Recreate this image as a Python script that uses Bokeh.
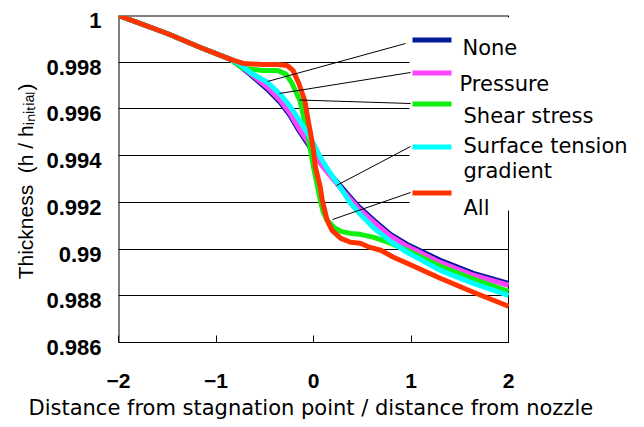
from bokeh.plotting import figure
from bokeh.models import Range1d, FixedTicker, Label, BoxAnnotation, LinearAxis, Title
from bokeh.embed import file_html
from bokeh.resources import INLINE

# ---------------- data ----------------
x_ticks = [-2, -1, 0, 1, 2]
x_tick_labels = ["\u22122", "\u22121", "0", "1", "2"]
y_ticks = [0.986, 0.988, 0.990, 0.992, 0.994, 0.996, 0.998, 1.0]
y_tick_labels = ["0.986", "0.988", "0.99", "0.992", "0.994", "0.996", "0.998", "1"]

names = ["None", "Pressure", "Shear stress", "Surface tension gradient", "All"]

none_x = [-2.0, -1.50, -1.16, -0.85, -0.75, -0.65, -0.47, -0.34, -0.24, -0.15, -0.06, 0.02, 0.10,
          0.28, 0.45, 0.62, 0.79, 0.96, 1.30, 1.64, 2.0]
none_y = [1.0, 0.99923, 0.99863, 0.99812, 0.99782, 0.99748, 0.99683, 0.99628, 0.99572, 0.99508,
          0.99452, 0.99397, 0.99354, 0.99268, 0.99187, 0.99123, 0.99063, 0.99020, 0.98952,
          0.98896, 0.98853]

pressure_x = [-2.0, -1.50, -1.16, -0.85, -0.75, -0.65, -0.47, -0.34, -0.24, -0.15, -0.06, 0.02,
              0.10, 0.28, 0.45, 0.62, 0.79, 0.96, 1.30, 1.64, 2.0]
pressure_y = [1.0, 0.99923, 0.99863, 0.99812, 0.99786, 0.99752, 0.99692, 0.99636, 0.99581,
              0.99517, 0.99461, 0.99401, 0.99350, 0.99260, 0.99179, 0.99114, 0.99055, 0.99012,
              0.98943, 0.98888, 0.98845]

shear_x = [-2.0, -1.50, -1.16, -0.85, -0.72, -0.52, -0.37, -0.28, -0.22, -0.14, -0.10, -0.06, 0.0,
           0.07, 0.10, 0.14, 0.21, 0.28, 0.38, 0.48, 0.62, 0.79, 0.96, 1.30, 1.64, 2.0]
shear_y = [1.0, 0.99923, 0.99863, 0.99812, 0.99773, 0.99765, 0.99765, 0.99748, 0.99709, 0.99636,
           0.99564, 0.99495, 0.99350, 0.99209, 0.99157, 0.99123, 0.99093, 0.99076, 0.99067,
           0.99063, 0.99050, 0.99025, 0.98995, 0.98926, 0.98871, 0.98819]

tension_x = [-2.0, -1.50, -1.16, -0.85, -0.75, -0.65, -0.47, -0.34, -0.24, -0.13, -0.06, 0.0, 0.07,
             0.14, 0.28, 0.38, 0.48, 0.62, 0.79, 0.96, 1.30, 1.64, 2.0]
tension_y = [1.0, 0.99923, 0.99863, 0.99812, 0.99790, 0.99756, 0.99713, 0.99662, 0.99611, 0.99542,
             0.99495, 0.99452, 0.99393, 0.99345, 0.99260, 0.99196, 0.99149, 0.99089, 0.99033,
             0.98986, 0.98909, 0.98853, 0.98802]

all_x = [-2.0, -1.50, -1.16, -0.85, -0.72, -0.52, -0.37, -0.27, -0.21, -0.15, -0.09, -0.06, -0.03,
         0.0, 0.02, 0.07, 0.09, 0.14, 0.19, 0.28, 0.38, 0.48, 0.58, 0.69, 0.82, 0.96, 1.30, 1.64, 2.0]
all_y = [1.0, 0.99923, 0.99863, 0.99812, 0.99795, 0.99790, 0.99790, 0.99786, 0.99765, 0.99709,
         0.99636, 0.99564, 0.99495, 0.99422, 0.99350, 0.99264, 0.99209, 0.99123, 0.99080, 0.99046,
         0.99029, 0.99025, 0.99007, 0.98995, 0.98965, 0.98939, 0.98875, 0.98815, 0.98755]

colors = ["#001a99", "#ff44ff", "#11ee11", "#00ffff", "#ff3300"]
series = [(none_x, none_y), (pressure_x, pressure_y), (shear_x, shear_y),
          (tension_x, tension_y), (all_x, all_y)]

X0, X1 = -2.0, 2.0
Y0, Y1 = 0.986, 1.0

# ---------------- layout helpers ----------------
W, H = 644, 427
FL, FR, FT, FB = 118, 508, 15, 342   # plot-area edges in picture pixels
EXTRA_B = 5                          # frame runs a few px below the plot area
LAB_DROP = 5                         # y tick labels sit this far below their grid line


def dx(px):      # picture x -> data x
    return X0 + (px - FL) * (X1 - X0) / (FR - FL)


def dy(py):      # picture y -> data y
    return Y1 - (py - FT) * (Y1 - Y0) / (FB - FT)


def sx(px):      # picture x -> screen units relative to frame
    return px - FL


def sy(py):
    return (FB + EXTRA_B) - py


# the frame runs to the right edge so that the legend texts are not clipped
p = figure(width=W, height=H, output_backend="svg", toolbar_location=None,
           x_range=Range1d(X0, dx(W)), y_range=Range1d(dy(FB + EXTRA_B), Y1),
           y_axis_location=None,
           min_border_left=FL, min_border_right=0, min_border_top=FT,
           min_border_bottom=H - FB - EXTRA_B)
p.background_fill_color = "white"
p.border_fill_color = "white"
p.outline_line_color = None

p.xgrid.visible = False
p.ygrid.ticker = FixedTicker(ticks=y_ticks)
p.ygrid.grid_line_color = "black"
p.ygrid.grid_line_width = 1

xa = p.xaxis[0]
xa.ticker = FixedTicker(ticks=x_ticks)
xa.bounds = (X0, X1)
xa.major_label_overrides = {t: s for t, s in zip(x_ticks, x_tick_labels)}
xa.major_tick_in = 7 + EXTRA_B
xa.major_tick_out = -EXTRA_B
xa.minor_tick_line_color = None
xa.axis_line_color = None
xa.major_tick_line_color = "black"
xa.major_label_standoff = 26
xa.major_label_text_font = "Liberation Sans"
xa.major_label_text_font_style = "bold"
xa.major_label_text_font_size = "21px"
xa.major_label_text_color = "black"

p.add_layout(Title(text="Distance from stagnation point / distance from nozzle",
                   align="left", offset=28 - FL, vertical_align="top", standoff=10,
                   text_font="DejaVu Sans", text_font_style="normal", text_font_size="21px",
                   text_color="black"), "below")

# y tick labels: axis on a range nudged so labels sit slightly below their grid lines
nudge = LAB_DROP * (Y1 - Y0) / (FB - FT)
span = Y1 - dy(FB + EXTRA_B)
p.extra_y_ranges = {"ylab": Range1d(Y1 + nudge - span - 1e-9, Y1 + nudge)}
ya = LinearAxis(y_range_name="ylab", ticker=FixedTicker(ticks=y_ticks),
                major_label_overrides={t: s for t, s in zip(y_ticks, y_tick_labels)},
                axis_line_color=None, major_tick_line_color=None, minor_tick_line_color=None,
                major_tick_in=0, major_tick_out=0, major_label_standoff=17,
                major_label_text_font="Liberation Sans", major_label_text_font_style="bold",
                major_label_text_font_size="22px", major_label_text_color="black",
                axis_label="Thickness\u00a0 (h / h\u1d62\u2099\u1d62\u209c\u1d62\u2090\u2097)",
                axis_label_text_font="Liberation Sans", axis_label_text_font_style="normal",
                axis_label_text_font_size="21px", axis_label_text_color="black",
                axis_label_standoff=6)
p.add_layout(ya, "left")

# white areas: right of the plot area, and the legend backdrop
p.add_layout(BoxAnnotation(left=X1, fill_color="white", fill_alpha=1.0, line_color=None,
                           level="underlay"))
p.add_layout(BoxAnnotation(left=dx(409), right=dx(530), top=dy(17), bottom=dy(210),
                           fill_color="white", fill_alpha=1.0, line_color=None,
                           level="underlay"))

# plot-area border: left, top (half-clipped at the frame edge, hence width 2), bottom, right
p.segment(x0=[X0, X0], y0=[Y0, Y1], x1=[X0, X1], y1=[Y1, Y1], line_color="black", line_width=2)
p.segment(x0=[X0, X1, X1], y0=[Y0, Y0, Y1], x1=[X1, X1, X1], y1=[Y0, dy(210), dy(17)],
          line_color="black", line_width=1)

# curves
for (xs, ys), c in zip(series, colors):
    p.line(xs, ys, line_color=c, line_width=5, line_join="round")

# leader lines
lead_from = [(405, 43), (410, 72), (410, 103), (410, 146), (410, 192)]
lead_to = [(267, 81), (279, 93), (299, 99.5), (336, 185), (332, 219)]
p.segment(x0=[dx(a) for a, b in lead_from], y0=[dy(b) for a, b in lead_from],
          x1=[dx(a) for a, b in lead_to], y1=[dy(b) for a, b in lead_to],
          line_color="black", line_width=1)

# legend swatches
sw_y = [39.5, 72.5, 103.5, 146.5, 192.5]
p.segment(x0=[dx(412)] * 5, y0=[dy(v) for v in sw_y], x1=[dx(451)] * 5, y1=[dy(v) for v in sw_y],
          line_color=colors, line_width=5, line_cap="butt")

# legend texts
leg_texts = [("None", 462, 47), ("Pressure", 459, 83), ("Shear stress", 463, 115),
             ("Surface tension", 463, 145), ("gradient", 463, 170), ("All", 463, 207)]
for t, lx, ly in leg_texts:
    p.add_layout(Label(x=sx(lx), y=sy(ly), x_units="screen", y_units="screen", text=t,
                       text_font="DejaVu Sans", text_font_size="21px", text_align="left",
                       text_baseline="alphabetic", text_color="black"))

open("out.html", "w").write(file_html(p, INLINE))
